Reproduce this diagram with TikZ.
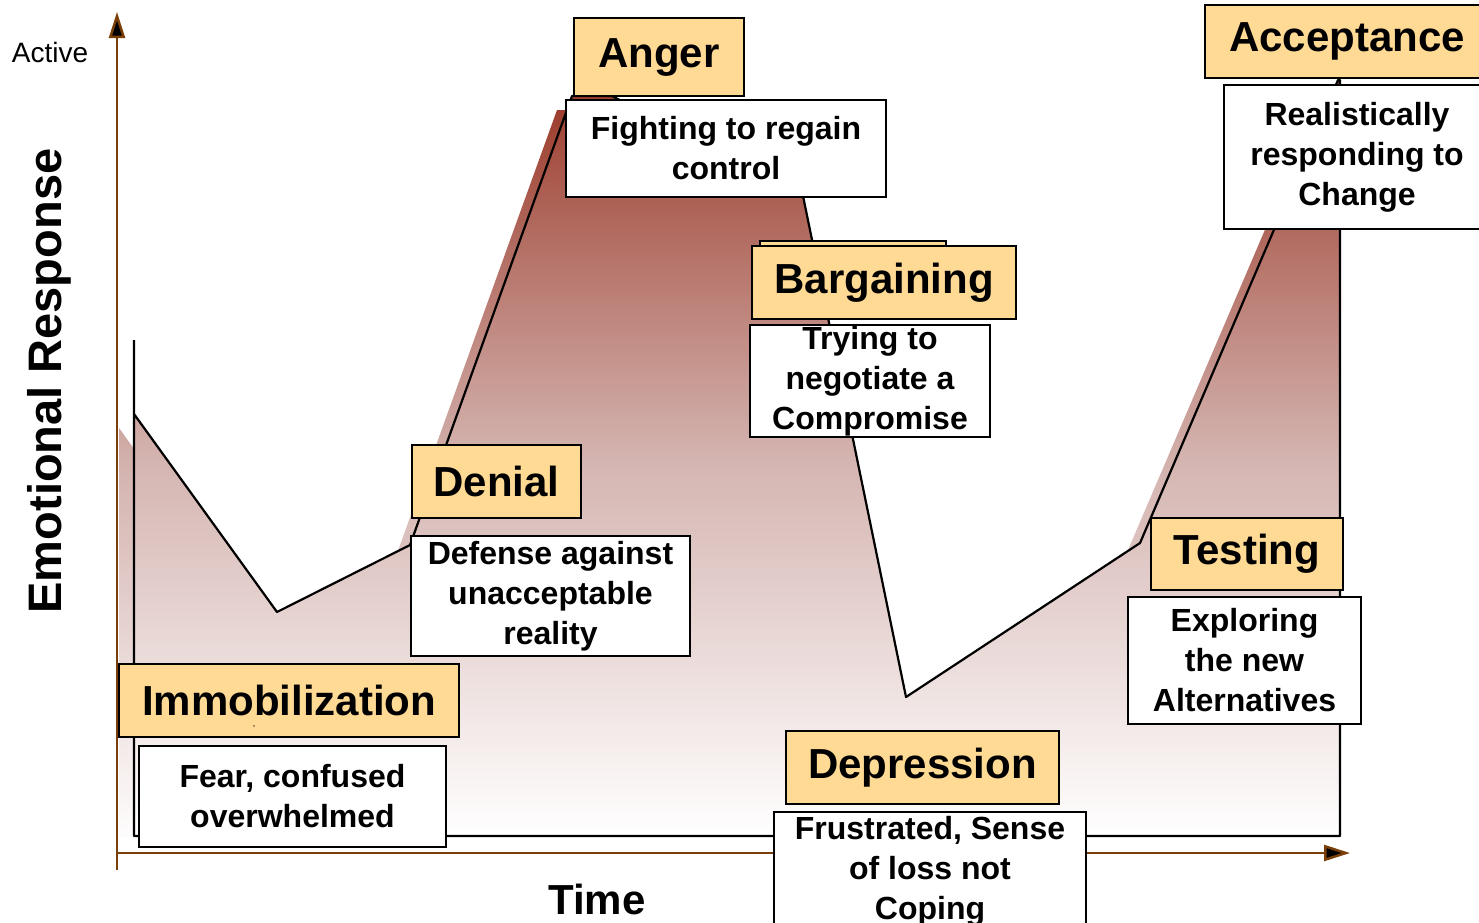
\documentclass[tikz,border=0pt]{standalone}
\usepackage{fontspec}
\setmainfont{Liberation Sans}
\usepackage{tikz}
\usetikzlibrary{arrows.meta}
\definecolor{peach}{RGB}{255,218,148}
\definecolor{axisbrown}{RGB}{122,62,8}
\definecolor{curvetop}{RGB}{155,58,42}
\definecolor{curvemid}{RGB}{212,180,176}

\begin{document}
\begin{tikzpicture}[x=1pt,y=-1pt]
	
	\tikzset{stage box/.style={draw, line width=2pt, fill=peach, inner sep=0pt,
			font=\fontsize{42}{48}\selectfont\bfseries},
		note box/.style={draw, line width=2pt, fill=white, inner sep=0pt, align=center,
			font=\fontsize{32}{40}\selectfont\bfseries},
		axis line/.style={draw=axisbrown, line width=2.5pt,
			-{Triangle[length=26pt,width=16pt,fill=black]}},
		curve fill/.style={top color=curvetop, bottom color=white, middle color=curvemid}
	}
	
	\useasboundingbox (0,0) rectangle (1479,922);
	\clip (0,0) rectangle (1479,922);
	
	\begin{scope}
		\clip (0,0) rectangle (1479,836);
		\shade[curve fill, shift={(-15,14)}] (134,414) -- (277,612) -- (410,545) -- (572,96) -- (612,96) -- (803,196) -- (906,697) -- (1140,543) -- (1338,80) -- (1340,80) -- (1340,836) -- (134,836) -- cycle;
	\end{scope}
	\shade[curve fill] (134,414) -- (277,612) -- (410,545) -- (572,96) -- (612,96) -- (803,196) -- (906,697) -- (1140,543) -- (1338,80) -- (1340,80) -- (1340,836) -- (134,836) -- cycle;
	\draw[line width=2.2pt, line join=round] (134,340) -- (134,836) -- (1340,836) -- (1340,80) -- (1338,80) -- (1140,543) -- (906,697) -- (803,196) -- (612,96) -- (572,96) -- (410,545) -- (277,612) -- (134,414);
	
	\draw[axis line] (117,870) -- (117,12);
	\draw[axis line] (117,853) -- (1350,853);
	
	\draw[line width=2pt, fill=peach] (760,241) rectangle (946,252);
	
	\node[stage box, minimum width=170pt, minimum height=78pt] (anger) at (659,57) {Anger};
	\node[note box, minimum width=320pt, minimum height=97pt] (fighting) at (726,148.5) {Fighting to regain\\control};
	\node[stage box, minimum width=264pt, minimum height=73pt] (bargaining) at (884,282.5) {Bargaining};
	\node[note box, minimum width=240pt, minimum height=112pt] (trying) at (870,381) {Trying to\\negotiate a\\Compromise};
	\node[stage box, minimum width=169pt, minimum height=73pt] (denial) at (496.5,481.5) {Denial};
	\node[note box, minimum width=279pt, minimum height=120pt] (defense) at (550.5,596) {Defense against\\unacceptable\\reality};
	\node[stage box, minimum width=340pt, minimum height=73pt] (immobilization) at (289,700.5) {Immobilization};
	\node (stray) at (254,727) {\fontsize{9}{9}\selectfont ,};
	\node[note box, minimum width=307pt, minimum height=101pt] (fear) at (292.5,796.5) {Fear, confused\\overwhelmed};
	\node[stage box, minimum width=273pt, minimum height=73pt] (depression) at (922.5,767.5) {Depression};
	\node[note box, minimum width=312pt, minimum height=118pt] (frustrated) at (930,871) {Frustrated, Sense\\of loss not\\Coping};
	\node[stage box, minimum width=192pt, minimum height=72pt] (testing) at (1247,554) {Testing};
	\node[note box, minimum width=233pt, minimum height=127pt] (exploring) at (1244.5,660.5) {Exploring\\the new\\Alternatives};
	\node[stage box, minimum width=284pt, minimum height=73pt] (acceptance) at (1347,41.5) {Acceptance};
	\node[note box, minimum width=266pt, minimum height=144pt] (realistic) at (1357,157) {Realistically\\responding to\\Change};
	
	\node[font=\fontsize{28}{32}\selectfont] (active) at (50,52) {Active};
	\node[rotate=90, font=\fontsize{47}{52}\selectfont\bfseries] (response) at (49,381) {Emotional Response};
	\node[font=\fontsize{42}{48}\selectfont\bfseries] (time) at (597,899) {Time};
	
\end{tikzpicture}
\end{document}
